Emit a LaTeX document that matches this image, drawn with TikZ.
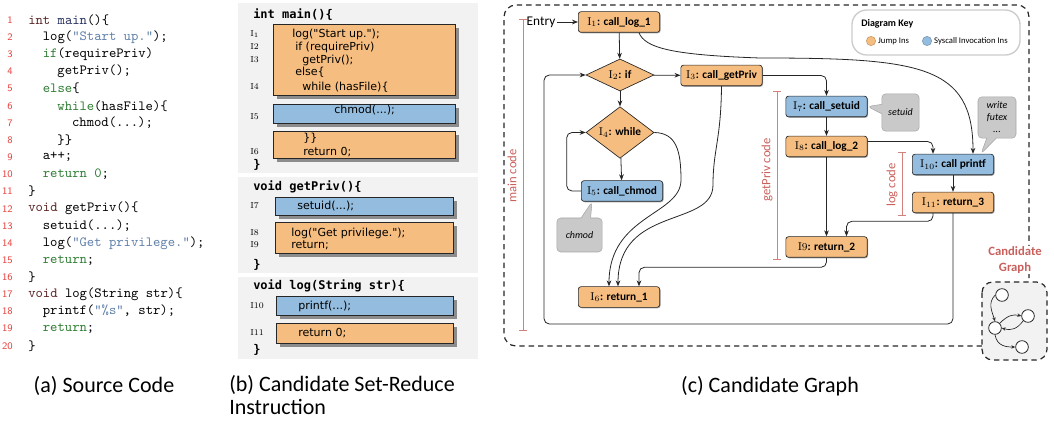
\documentclass[tikz,border=0pt]{standalone}
\usepackage{fontspec}
\usetikzlibrary{positioning, arrows.meta, shapes.geometric, shapes.callouts, shadows, calc}
\newfontfamily\capfont{Carlito}
\newfontfamily\blkfont{DejaVu Sans}
\newfontfamily\hdrfont{DejaVu Sans Mono}
\definecolor{cJump}{HTML}{F6BD80}
\definecolor{cSys}{HTML}{93BCDE}
\definecolor{cEdge}{HTML}{262626}
\definecolor{cSpan}{HTML}{C9605C}
\definecolor{cLnum}{HTML}{E8433F}
\definecolor{cKw}{HTML}{2E7D32}
\definecolor{cStr}{HTML}{5F7FA8}
\definecolor{cType}{HTML}{5A2323}
\definecolor{cFn}{HTML}{27305E}
\definecolor{cPanel}{HTML}{F2F2F2}
\definecolor{cTip}{HTML}{C9C9C9}
\tikzset{
  srcnum/.style={anchor=east, inner sep=0pt, text=cLnum, font=\sffamily\fontsize{7.5}{9}\selectfont},
  srctxt/.style={anchor=west, inner sep=0pt, font=\ttfamily\fontsize{10.5}{12}\selectfont},
  blkhead/.style={anchor=west, inner sep=0pt, font=\hdrfont\bfseries\fontsize{9}{10}\selectfont},
  blktxt/.style={anchor=west, inner sep=0pt, font=\blkfont\fontsize{8.3}{9.5}\selectfont},
  blkid/.style={anchor=west, inner sep=0pt, font=\rmfamily\fontsize{6.5}{7}\selectfont},
  codeblk/.style={draw=black!85, line width=0.6pt, fill=#1, inner sep=0pt,
    drop shadow={shadow xshift=3pt, shadow yshift=-3pt, fill=black!45, opacity=1}},
  insbox/.style={draw=black!85, line width=0.5pt, rounded corners=2pt, fill=#1,
    minimum width=61pt, minimum height=15.5pt, inner sep=1pt,
    font=\capfont\bfseries\fontsize{8.5}{10}\selectfont,
    drop shadow={shadow xshift=0.7pt, shadow yshift=-0.7pt, fill=black!35, opacity=1}},
  insdia/.style={diamond, draw=black!85, line width=0.5pt, fill=cJump,
    minimum width=51pt, minimum height=20pt, inner sep=0pt,
    font=\capfont\bfseries\fontsize{8.5}{10}\selectfont},
  flow/.style={-{Stealth[length=4.5pt,width=3.5pt]}, line width=0.6pt, draw=cEdge},
  tipnote/.style={rectangle callout, draw=black!35, fill=cTip, rounded corners=3pt,
    inner sep=1pt, align=center, font=\capfont\itshape\fontsize{7.5}{9}\selectfont},
  span/.style={{Bar[width=6pt]}-{Bar[width=6pt]}, draw=cSpan!80, line width=0.6pt},
  spanlbl/.style={rotate=90, inner sep=0pt, text=cSpan, font=\capfont\fontsize{9.5}{11}\selectfont},
  keydot/.style={circle, draw=#1!80!black, fill=#1, line width=0.4pt, minimum size=7pt, inner sep=0pt},
  keytxt/.style={anchor=west, inner sep=0pt, font=\capfont\fontsize{6.5}{7}\selectfont},
  gdot/.style={circle, draw=black!85, fill=white, line width=0.6pt, minimum size=9.5pt, inner sep=0pt},
  gflow/.style={-{Stealth[length=3pt,width=2.5pt]}, line width=0.5pt, draw=cEdge},
  capt/.style={inner sep=0pt, font=\capfont\fontsize{16.5}{17.5}\selectfont}
}
\newcommand{\codekw}[1]{\textcolor{cKw}{#1}}
\newcommand{\codestr}[1]{\textcolor{cStr}{#1}}
\newcommand{\codetype}[1]{\textcolor{cType}{#1}}
\newcommand{\codefn}[1]{\textcolor{cFn}{#1}}
\newcommand{\srcline}[3]{%
  \node[srcnum] (num#1) at (13,{20+17.15*(#1-1)}) {#1};
  \node[srctxt] (src#1) at ({28+14.6*#2},{20+17.15*(#1-1)}) {#3};}

\begin{document}
\begin{tikzpicture}[x=0.75pt, y=-0.75pt]
  \useasboundingbox (0,0) rectangle (1054,431);

  % (a) source code
  \srcline{1}{0}{\codetype{int} \codefn{main}()\{}
  \srcline{2}{1}{log(\codestr{"Start up."});}
  \srcline{3}{1}{\codekw{if}(requirePriv)}
  \srcline{4}{2}{getPriv();}
  \srcline{5}{1}{\codekw{else}\{}
  \srcline{6}{2}{\codekw{while}(hasFile)\{}
  \srcline{7}{3}{chmod(...);}
  \srcline{8}{2}{\}\}}
  \srcline{9}{1}{a++;}
  \srcline{10}{1}{\codekw{return} \codekw{0};}
  \srcline{11}{0}{\}}
  \srcline{12}{0}{\codetype{void} getPriv()\{}
  \srcline{13}{1}{setuid(...);}
  \srcline{14}{1}{log(\codestr{"Get privilege."});}
  \srcline{15}{1}{\codekw{return};}
  \srcline{16}{0}{\}}
  \srcline{17}{0}{\codetype{void} log(String str)\{}
  \srcline{18}{1}{printf(\codestr{"\%s"}, str);}
  \srcline{19}{1}{\codekw{return};}
  \srcline{20}{0}{\}}

  % (b) reduced instruction blocks
  \fill[cPanel] (238,3) rectangle (478,173);
  \fill[cPanel] (238,177) rectangle (478,273);
  \fill[cPanel] (238,277) rectangle (478,359);

  \node[blkhead] (hmain) at (253,15) {int main()\{};
  \node[codeblk=cJump, minimum width=136.5pt, minimum height=53.25pt] (blk1) at (364,59.5) {};
  \node[codeblk=cSys, minimum width=136.5pt, minimum height=14.25pt] (blk2) at (364,113.5) {};
  \node[codeblk=cJump, minimum width=136.5pt, minimum height=20.25pt] (blk3) at (364,144.5) {};
  \node[blktxt] (t1) at (292,34) {log("Start up.");};
  \node[blktxt] (t2) at (295,47) {if (requirePriv)};
  \node[blktxt] (t3) at (302,60) {getPriv();};
  \node[blktxt] (t4) at (295,72) {else\{};
  \node[blktxt] (t5) at (302,87) {while (hasFile)\{};
  \node[blktxt] (t6) at (334,110) {chmod(...);};
  \node[blktxt] (t7) at (303,138) {\}\}};
  \node[blktxt] (t8) at (303,152) {return 0;};
  \node[blkid] (id1) at (250,34) {I$_1$};
  \node[blkid] (id2) at (250,47) {I2};
  \node[blkid] (id3) at (250,60) {I3};
  \node[blkid] (id4) at (250,87) {I4};
  \node[blkid] (id5) at (250,117) {I5};
  \node[blkid] (id6) at (250,152) {I6};
  \node[blkhead] (emain) at (253,165) {\}};

  \node[blkhead] (hpriv) at (253,187) {void getPriv()\{};
  \node[codeblk=cSys, minimum width=133.5pt, minimum height=13.5pt] (blk4) at (364,206) {};
  \node[codeblk=cJump, minimum width=133.5pt, minimum height=23.25pt] (blk5) at (364,237.5) {};
  \node[blktxt] (t9) at (297,206) {setuid(...);};
  \node[blktxt] (t10) at (291,233) {log("Get privilege.");};
  \node[blktxt] (t11) at (291,245) {return;};
  \node[blkid] (id7) at (250,206) {I7};
  \node[blkid] (id8) at (250,233) {I8};
  \node[blkid] (id9) at (250,245) {I9};
  \node[blkhead] (epriv) at (253,265) {\}};

  \node[blkhead] (hlog) at (253,286) {void log(String str)\{};
  \node[codeblk=cSys, minimum width=132.75pt, minimum height=14.25pt] (blk6) at (364.5,305.5) {};
  \node[codeblk=cJump, minimum width=132.75pt, minimum height=15pt] (blk7) at (364.5,333) {};
  \node[blktxt] (t12) at (298,306) {printf(...);};
  \node[blktxt] (t13) at (298,333) {return 0;};
  \node[blkid] (id10) at (250,306) {I10};
  \node[blkid] (id11) at (250,333) {I11};
  \node[blkhead] (elog) at (253,350) {\}};

  % (c) candidate graph
  \draw[dashed, line width=0.9pt, draw=cEdge, rounded corners=9pt, dash pattern=on 4pt off 3pt]
    (982,346) -- (504,346) -- (504,5) -- (1029,5) -- (1029,282);
  \draw[line width=0.9pt, draw=cEdge, dash pattern=on 4pt off 3pt, fill=cPanel, rounded corners=8pt]
    (982,282) rectangle (1047,360);

  \node[draw=black!20, line width=1pt, rounded corners=11pt, minimum width=126pt,
    minimum height=33.75pt, fill=white] (key) at (936,32.5) {};
  \node[anchor=west, inner sep=0pt, font=\capfont\bfseries\fontsize{7.5}{9}\selectfont] (keyttl) at (861,24) {Diagram Key};
  \node[keydot=cJump] (kjump) at (871,41) {};
  \node[keytxt, right=1.5pt of kjump] (kjumptxt) {Jump Ins};
  \node[keydot=cSys] (ksys) at (927,41) {};
  \node[keytxt, right=1.5pt of ksys] (ksystxt) {Syscall Invocation Ins};

  \draw[span] (523,19) -- (523,331);
  \node[spanlbl] (lmain) at (512,176) {main code};
  \draw[span] (777,91) -- (777,260);
  \node[spanlbl] (lpriv) at (767,170) {getPriv code};
  \draw[span] (902,152) -- (902,216);
  \node[spanlbl] (llog) at (892,185) {log code};

  \node[inner sep=1pt, font=\capfont\fontsize{10}{12}\selectfont] (entry) at (541,22) {Entry};
  \node[insbox=cJump] (I1) at (619,22) {$\mathrm{I}_1$: call\_log\_1};
  \node[insdia] (I2) at (620,75) {$\mathrm{I}_2$: if};
  \node[insbox=cJump] (I3) at (721.5,75.5) {$\mathrm{I}_3$: call\_getPriv};
  \node[insdia] (I4) at (620,132.5) {$\mathrm{I}_4$: while};
  \node[insbox=cSys] (I5) at (622,191) {$\mathrm{I}_5$: call\_chmod};
  \node[insbox=cJump] (I6) at (619,297) {$\mathrm{I}_6$: return\_1};
  \node[insbox=cSys] (I7) at (826.5,106.5) {$\mathrm{I}_7$: call\_setuid};
  \node[insbox=cJump] (I8) at (826.5,146.5) {$\mathrm{I}_8$: call\_log\_2};
  \node[insbox=cJump] (I9) at (826.5,247) {$\mathrm{I}9$: return\_2};
  \node[insbox=cSys] (I10) at (953,164.5) {$\mathrm{I}_{10}$: call printf};
  \node[insbox=cJump] (I11) at (953,202.5) {$\mathrm{I}_{11}$: return\_3};

  \node[tipnote, minimum width=34pt, minimum height=25.5pt,
    callout absolute pointer={($(I5.south west)+(11,0)$)}] (tchmod) at (579.5,235) {chmod};
  \node[tipnote, minimum width=28pt, minimum height=28pt,
    callout absolute pointer={(I7.east)}] (tsetuid) at (900.5,112.5) {setuid};
  \node[tipnote, minimum width=28.5pt, minimum height=31pt,
    callout absolute pointer={($(I10.north east)+(-13,0)$)}] (twrite) at (997,117.5) {write\\futex\\...};

  \draw[flow] (entry) -- (I1);
  \draw[flow] (I1) -- (I2);
  \draw[flow] (I2) -- (I3);
  \draw[flow] (I2) -- (I4);
  \draw[flow] (I4) -- (I5);
  \draw[flow, rounded corners=4pt] (I5.west) -| ($(I4.west)+(-19,0)$) -- (I4.west);
  \draw[flow, rounded corners=4pt] (I11.south) |- (544,324) |- (I2.west);
  \draw[flow] (I4.east) .. controls (676,133) and (681,150) .. (681,180)
    .. controls (681,215) and (609,215) .. ($(I6.north)+(-10,0)$);
  \draw[flow] (I3.south) .. controls (721,140) and (713,150) .. (713,185)
    .. controls (713,228) and (618,205) .. ($(I6.north)+(-1,0)$);
  \draw[flow, rounded corners=4pt] (I9.south) |- ($(I6.north)+(20,-19)$) -- ($(I6.north)+(20,0)$);
  \draw[flow, rounded corners=4pt] (I3.east) -| (I7.north);
  \draw[flow] (I7) -- (I8);
  \draw[flow] (I8) -- (I9);
  \draw[flow, rounded corners=4pt] ($(I8.east)+(0,-5)$) -| ($(I10.north)+(-20,0)$);
  \draw[flow] (I10) -- (I11);
  \draw[flow, rounded corners=4pt] ($(I11.south)+(-20,0)$) |- ($(I9.north)+(20,-15)$) -- ($(I9.north)+(20,0)$);
  \draw[flow] ($(I1.south)+(20,0)$) .. controls (645,48) and (672,55) .. (760,58)
    .. controls (920,58) and (973,65) .. ($(I10.north)+(20,0)$);

  \node[fill=white, inner sep=1pt, font=\capfont\bfseries\fontsize{9.5}{11.5}\selectfont, text=cSpan, align=center] (cglbl) at (1015,260) {Candidate\\Graph};
  \node[gdot] (g1) at (1002,295) {};
  \node[gdot] (g2) at (1028,316) {};
  \node[gdot] (g3) at (995,328) {};
  \node[gdot] (g4) at (1022,347) {};
  \draw[gflow] (g1.west) .. controls +(-8,8) and +(-3,-10) .. (g3.north);
  \draw[gflow] (g3.north east) .. controls +(8,-8) and +(-8,-2) .. (g2.west);
  \draw[gflow] (g2.south west) .. controls +(-6,8) and +(10,3) .. (g3.east);
  \draw[gflow] (g3.south) .. controls +(2,12) and +(-8,0) .. (g4.west);

  % captions
  \node[capt] (capa) at (104,386) {(a) Source Code};
  \node[capt, anchor=north west, align=left] (capb) at (229,375) {(b) Candidate Set-Reduce\\Instruction};
  \node[capt] (capc) at (770,386) {(c) Candidate Graph};
\end{tikzpicture}
\end{document}
